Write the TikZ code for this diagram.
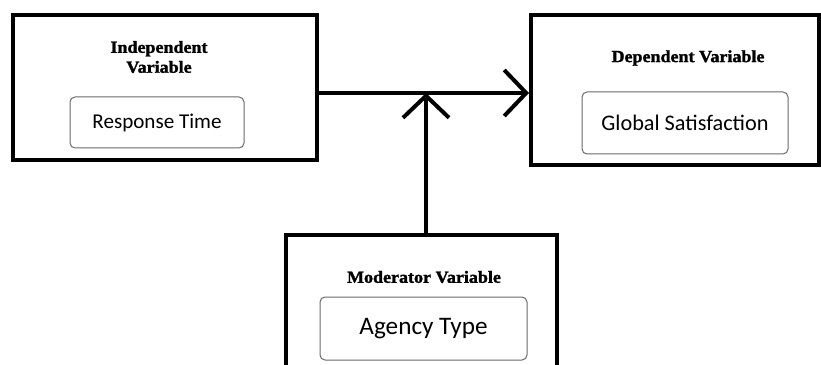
\documentclass[tikz,border=0pt]{standalone}
\usepackage{fontspec}
\setmainfont{Liberation Serif}
\newfontfamily\boxfont{Carlito}
\newfontfamily\titlefont[FakeBold=1.6, FakeStretch=1.06]{Liberation Serif Bold}
\usetikzlibrary{arrows.meta,positioning}
\definecolor{innergray}{RGB}{105,105,105}
\def\px{0.3mm}
\tikzset{
  outerbox/.style={draw, line width=4*\px, inner sep=0pt},
  innerbox/.style={draw=innergray, line width=1*\px, rounded corners=5*\px, inner sep=0pt, font=\boxfont},
  boxtitle/.style={font=\titlefont\fontsize{14.5}{17}\selectfont, align=center},
  link/.style={line width=4*\px, -{Straight Barb[length=22*\px, width=46*\px]}}
}

\begin{document}
\begin{tikzpicture}[x=\px, y=-\px]
  \useasboundingbox (0,0) rectangle (821,365);
  \clip (0,0) rectangle (821,365);

  % outer boxes
  \node[outerbox, minimum width=304*\px, minimum height=145*\px] (indep) at (165,87.5) {};
  \node[outerbox, minimum width=288*\px, minimum height=150*\px] (dep) at (675,90) {};
  \node[outerbox, minimum width=271*\px, minimum height=165*\px] (moder) at (421.5,317.5) {};

  % titles
  \node[boxtitle] (indeptitle) at (159,57) {Independent\\Variable};
  \node[boxtitle] (deptitle) at (688,58) {Dependent Variable};
  \node[boxtitle] (modertitle) at (424,277) {Moderator Variable};

  % inner boxes
  \node[innerbox, minimum width=174*\px, minimum height=51*\px, font=\boxfont\fontsize{18}{20}\selectfont] (resp) at (157,122.5) {Response Time};
  \node[innerbox, minimum width=206*\px, minimum height=62*\px, font=\boxfont\fontsize{19}{21}\selectfont] (glob) at (685,123) {Global Satisfaction};
  \node[innerbox, minimum width=207*\px, minimum height=63*\px, font=\boxfont\fontsize{21.5}{23}\selectfont] (agency) at (423.5,328.5) {Agency Type};

  % connectors
  \coordinate (join) at (426,93);
  \draw[link] (indep.east |- join) -- (dep.west |- join);
  \draw[link] (moder.north -| join) -- (join);

\end{tikzpicture}
\end{document}
